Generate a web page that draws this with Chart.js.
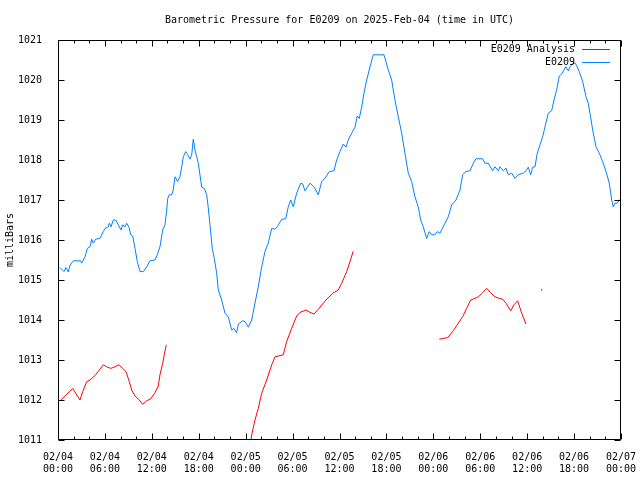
<!DOCTYPE html>
<html>
<head>
<meta charset="utf-8">
<script src="https://cdn.jsdelivr.net/npm/chart.js@4/dist/chart.umd.min.js"></script>
<style>
  html, body { margin: 0; padding: 0; background: #fff; }
  canvas { display: block; }
</style>
</head>
<body>
<canvas id="c" width="640" height="480"></canvas>
<script>
// hours since 02/04 00:00 UTC
const blueHours = [0.26,0.77,1.02,1.32,1.53,1.96,2.9,3.03,3.45,3.75,4.09,4.31,4.51,4.82,5.37,5.79,6.01,6.43,6.56,6.78,
  7.07,7.38,7.71,8.06,8.27,8.57,8.79,9.08,9.3,9.55,9.85,10.14,10.49,10.91,11.34,11.76,12.4,12.7,13.04,13.39,
  13.68,13.9,14.03,14.23,14.54,14.74,14.96,15.31,15.6,15.9,16.02,16.33,16.59,16.88,17.1,17.3,17.52,17.74,17.94,18.25,
  18.38,18.71,19.02,19.22,19.53,19.73,19.99,20.29,20.5,20.93,21.36,21.78,22.21,22.51,22.85,23.06,23.62,23.91,24.34,24.77,
  25.19,25.61,26.05,26.47,26.89,27.33,27.75,28.04,28.61,29.12,29.45,29.76,30.09,30.52,31.04,31.29,31.59,32.23,32.74,33.29,
  33.72,34.14,34.69,35.29,35.64,36.06,36.48,36.83,37.12,37.56,37.98,38.27,38.53,38.84,39.13,39.48,39.9,40.32,41.69,42.24,
  42.67,43.09,43.52,43.95,44.37,44.8,45.23,45.65,46.07,46.38,46.71,47.15,47.48,47.79,48.21,48.5,48.85,49.49,49.91,50.35,
  50.9,51.41,51.75,52.17,52.69,53.11,53.45,54.31,54.6,55.03,55.58,55.88,56.31,56.52,56.95,57.29,57.59,58.02,58.44,58.86,
  59.5,59.85,60.14,60.45,60.7,61.0,61.29,61.64,61.98,62.28,62.7,63.13,63.43,63.77,64.11,64.41,64.71,64.96,65.26,65.47,
  65.82,66.11,66.41,66.66,67.1,67.52,67.81,68.03,68.38,68.8,69.22,69.66,70.08,70.5,70.81,71.01,71.23,71.52,71.78,72.0];
const bluePressure = [1015.31,1015.21,1015.31,1015.2,1015.37,1015.48,1015.48,1015.42,1015.58,1015.79,1015.83,1016.02,1015.92,1016.02,1016.04,1016.21,1016.29,1016.33,1016.42,1016.33,
  1016.5,1016.5,1016.38,1016.25,1016.38,1016.33,1016.42,1016.32,1016.13,1016.1,1015.79,1015.46,1015.21,1015.21,1015.33,1015.48,1015.5,1015.63,1015.83,1016.25,
  1016.38,1016.75,1017.04,1017.13,1017.13,1017.25,1017.58,1017.46,1017.58,1017.92,1018.08,1018.21,1018.13,1018.02,1018.13,1018.52,1018.25,1018.08,1017.92,1017.5,
  1017.32,1017.29,1017.13,1016.8,1016.2,1015.79,1015.54,1015.17,1014.75,1014.5,1014.17,1014.08,1013.75,1013.79,1013.68,1013.9,1013.98,1013.96,1013.82,1014.0,
  1014.42,1014.83,1015.33,1015.71,1015.92,1016.29,1016.27,1016.33,1016.52,1016.53,1016.83,1017.0,1016.83,1017.17,1017.42,1017.4,1017.23,1017.42,1017.33,1017.13,
  1017.46,1017.54,1017.71,1017.73,1018.0,1018.21,1018.4,1018.32,1018.5,1018.67,1018.82,1019.1,1019.04,1019.33,1019.67,1020.0,1020.33,1020.63,1020.63,1020.25,
  1020.0,1019.5,1019.08,1018.67,1018.17,1017.67,1017.46,1017.08,1016.83,1016.5,1016.33,1016.04,1016.21,1016.13,1016.13,1016.21,1016.17,1016.42,1016.58,1016.88,
  1017.0,1017.25,1017.63,1017.71,1017.73,1017.92,1018.03,1018.03,1017.92,1017.92,1017.73,1017.83,1017.73,1017.83,1017.73,1017.8,1017.63,1017.67,1017.54,1017.63,
  1017.67,1017.73,1017.82,1017.63,1017.82,1017.83,1018.17,1018.38,1018.58,1018.83,1019.17,1019.23,1019.5,1019.75,1020.1,1020.15,1020.25,1020.33,1020.23,1020.33,
  1020.4,1020.43,1020.33,1020.21,1019.96,1019.58,1019.42,1019.17,1018.75,1018.33,1018.17,1017.96,1017.71,1017.42,1017.0,1016.83,1016.92,1016.92,1017.0,1017.0];

// analysis series, null = gap
const redHours = [0.4,1.88,2.81,3.16,3.67,4.09,4.73,5.28,5.79,6.23,6.74,7.29,7.8,8.27,8.7,9.12,9.42,9.85,10.4,10.83,
  11.34,11.85,12.4,12.83,13.04,13.39,13.59,13.85,19.0,
  24.62,24.77,25.19,25.61,26.05,26.69,27.33,27.75,28.81,29.24,29.88,30.52,30.95,31.71,32.23,32.74,33.29,34.27,35.13,35.84,
  36.28,36.92,37.34,37.76,43.0,
  48.76,49.27,49.83,50.55,51.19,51.75,52.26,52.77,53.32,53.75,54.31,54.82,55.33,55.88,56.43,56.87,57.29,57.89,58.31,58.78,
  59.3,59.85,61.0,61.85,63.0];
const redPressure = [1012.0,1012.29,1012.0,1012.21,1012.46,1012.5,1012.61,1012.75,1012.88,1012.83,1012.79,1012.83,1012.88,1012.79,1012.71,1012.46,1012.25,1012.1,1012.0,1011.89,
  1011.98,1012.03,1012.18,1012.35,1012.63,1012.92,1013.13,1013.38,null,
  1010.9,1011.13,1011.5,1011.79,1012.17,1012.5,1012.88,1013.08,1013.13,1013.46,1013.79,1014.1,1014.19,1014.25,1014.19,1014.15,1014.27,1014.5,1014.67,1014.75,
  1014.92,1015.21,1015.46,1015.72,null,
  1013.52,1013.54,1013.56,1013.73,1013.92,1014.08,1014.29,1014.5,1014.54,1014.58,1014.68,1014.79,1014.68,1014.58,1014.54,1014.52,1014.42,1014.23,1014.38,1014.48,
  1014.17,1013.9,null,1014.75,null];

const xTickDates = ['02/04','02/04','02/04','02/04','02/05','02/05','02/05','02/05','02/06','02/06','02/06','02/06','02/07'];
const xTickTimes = ['00:00','06:00','12:00','18:00','00:00','06:00','12:00','18:00','00:00','06:00','12:00','18:00','00:00'];

const FONT = '"DejaVu Sans Mono", "Liberation Mono", monospace';

const toPoints = (xs, ys) => xs.map((h, i) => ({ x: h, y: ys[i] }));

// gnuplot-style frame, inward ticks on all sides, legend in the corner
const framePlugin = {
  id: 'frame',
  afterDatasetsDraw(chart) {
    const { ctx, chartArea: a, scales: { x, y } } = chart;
    const L = Math.round(a.left) + 0.5, R = Math.round(a.right) - 0.5;
    const T = Math.round(a.top) + 0.5, B = Math.round(a.bottom) - 0.5;
    ctx.save();
    ctx.strokeStyle = '#000';
    ctx.lineWidth = 1;
    ctx.beginPath();
    ctx.rect(L, T, R - L, B - T);
    for (let h = 0; h <= 72; h += 2) {
      const px = Math.round(x.getPixelForValue(h)) + 0.5;
      const len = h % 6 === 0 ? 6 : 3;
      ctx.moveTo(px, B); ctx.lineTo(px, B - len);
      ctx.moveTo(px, T); ctx.lineTo(px, T + len);
    }
    y.ticks.forEach(t => {
      const py = Math.round(y.getPixelForValue(t.value)) + 0.5;
      ctx.moveTo(L, py); ctx.lineTo(L + 6, py);
      ctx.moveTo(R, py); ctx.lineTo(R - 6, py);
    });
    ctx.stroke();

    // legend
    ctx.font = '10px ' + FONT;
    ctx.textAlign = 'right';
    ctx.textBaseline = 'middle';
    chart.data.datasets.forEach((ds, i) => {
      const ly = 49 + i * 13;
      ctx.fillStyle = '#000';
      ctx.fillText(ds.label, 575, ly);
      ctx.strokeStyle = ds.borderColor;
      ctx.beginPath();
      ctx.moveTo(582, ly + 0.5); ctx.lineTo(610, ly + 0.5);
      ctx.stroke();
    });
    ctx.restore();
  }
};

new Chart(document.getElementById('c'), {
  type: 'line',
  data: {
    datasets: [
      {
        label: 'E0209 Analysis',
        data: toPoints(redHours, redPressure),
        borderColor: 'rgb(255,0,0)',
        backgroundColor: 'rgb(255,0,0)',
        borderWidth: 1,
        spanGaps: false,
        pointRadius: c => {
          const d = c.dataset.data, i = c.dataIndex;
          if (d[i].y === null) return 0;
          const prev = d[i - 1], next = d[i + 1];
          return (!prev || prev.y === null) && (!next || next.y === null) ? 0.8 : 0;
        },
        pointBorderWidth: 0
      },
      {
        label: 'E0209',
        data: toPoints(blueHours, bluePressure),
        borderColor: 'rgb(0,128,255)',
        borderWidth: 1,
        pointRadius: 0
      }
    ]
  },
  options: {
    responsive: false,
    animation: false,
    devicePixelRatio: 1,
    layout: { padding: { left: 0, right: 19, top: 0, bottom: 0 } },
    plugins: {
      legend: { display: false },
      tooltip: { enabled: false },
      title: {
        display: true,
        fullSize: false,
        text: 'Barometric Pressure for E0209 on 2025-Feb-04 (time in UTC)',
        color: '#000',
        font: { family: FONT, size: 10, weight: 'normal' },
        padding: { top: 14, bottom: 14 }
      }
    },
    scales: {
      x: {
        type: 'linear',
        min: 0,
        max: 72,
        grid: { display: false },
        border: { display: false },
        afterFit: s => { s.height = 40; s.paddingLeft = 0; s.paddingRight = 0; },
        afterBuildTicks: s => { s.ticks = xTickDates.map((_, i) => ({ value: i * 6 })); },
        ticks: {
          color: '#000',
          padding: 3,
          maxRotation: 0,
          autoSkip: false,
          font: { family: FONT, size: 10 },
          callback: (v) => [xTickDates[v / 6], xTickTimes[v / 6]]
        }
      },
      y: {
        min: 1011,
        max: 1021,
        grid: { display: false },
        border: { display: false },
        afterFit: s => { s.width = 58; },
        ticks: {
          stepSize: 1,
          color: '#000',
          padding: 8,
          font: { family: FONT, size: 10 },
          callback: v => String(v)
        },
        title: {
          display: true,
          text: 'milliBars',
          color: '#000',
          font: { family: FONT, size: 10 },
          padding: { top: 4, bottom: 0 }
        }
      }
    }
  },
  plugins: [framePlugin]
});
</script>
</body>
</html>
